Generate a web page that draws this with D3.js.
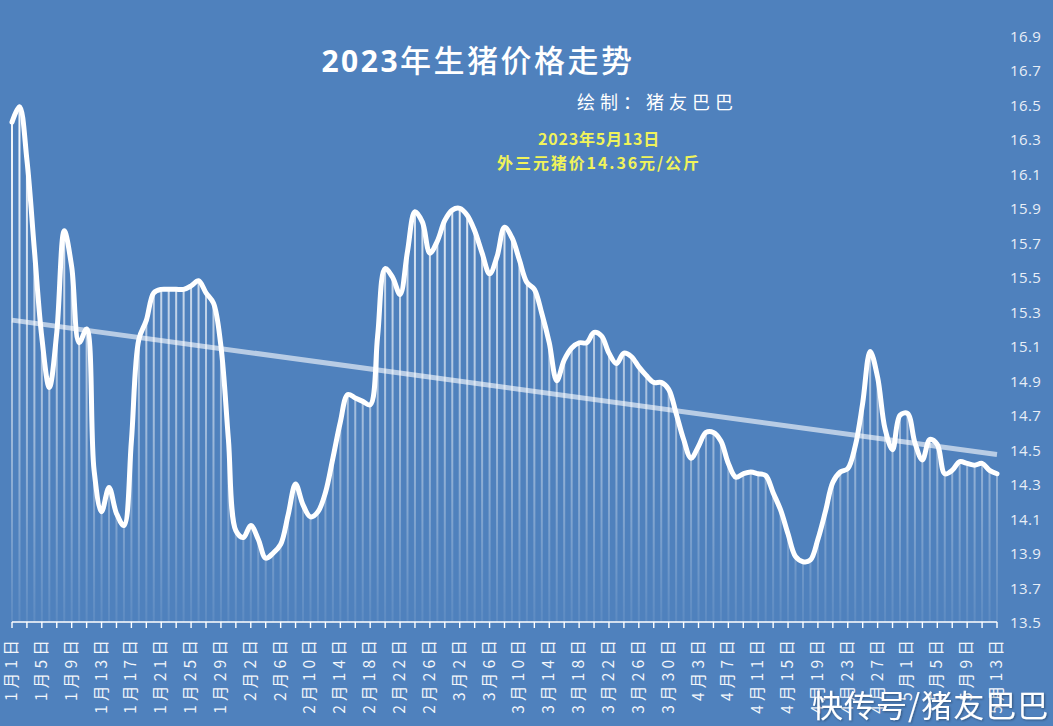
<!DOCTYPE html>
<html><head><meta charset="utf-8">
<script src="https://cdn.jsdelivr.net/npm/d3@7"></script>
<style>html,body{margin:0;padding:0;background:#4f81bd;} svg{display:block}</style>
</head><body><svg id="c" width="1053" height="726"></svg>
<script>
// ---- data ----
const monthLengths = [31, 28, 31, 30, 13]; // Jan 1 .. May 13, 2023
const categories = [];
monthLengths.forEach((n, m) => { for (let d = 1; d <= n; d++) categories.push(`${m + 1}月${d}日`); });

const prices = [
  16.40, 16.49, 16.18, 15.66, 15.15, 14.86, 15.18, 15.77, 15.56, 15.12,
  15.20, 14.38, 14.14, 14.28, 14.13, 14.06, 14.55, 15.14, 15.25, 15.41,
  15.43, 15.43, 15.43, 15.43, 15.45, 15.48, 15.41, 15.35, 15.10, 14.56,
  14.03, 13.99, 14.06, 13.98, 13.87, 13.90, 13.95, 14.12, 14.30, 14.18,
  14.11, 14.14, 14.25, 14.45, 14.66, 14.82, 14.80, 14.78, 14.76, 15.16,
  15.55, 15.50, 15.40, 15.65, 15.88, 15.82, 15.64, 15.71, 15.83, 15.89,
  15.90, 15.86, 15.77, 15.64, 15.52, 15.62, 15.79, 15.73, 15.60, 15.47,
  15.43, 15.29, 15.12, 14.90, 15.02, 15.09, 15.12, 15.12, 15.18, 15.16,
  15.06, 15.00, 15.06, 15.04, 14.98, 14.93, 14.89, 14.89, 14.85, 14.71,
  14.56, 14.45, 14.52, 14.60, 14.60, 14.55, 14.42, 14.34, 14.36, 14.37,
  14.36, 14.35, 14.25, 14.15, 14.01, 13.88, 13.85, 13.86, 13.98, 14.14,
  14.31, 14.37, 14.39, 14.52, 14.77, 15.07, 14.92, 14.62, 14.50, 14.70,
  14.71, 14.54, 14.44, 14.56, 14.53, 14.36, 14.38, 14.43, 14.42, 14.41,
  14.42, 14.38, 14.36
];

const yTicks = [13.5, 13.7, 13.9, 14.1, 14.3, 14.5, 14.7, 14.9, 15.1, 15.3, 15.5, 15.7, 15.9, 16.1, 16.3, 16.5, 16.7, 16.9];
const titleNum = "2023";
const titleText = "年生猪价格走势";
const authorText = "绘制：猪友巴巴";
const noteLines = ["2023年5月13日", "外三元猪价14.36元/公斤"];
const watermark = "快传号/猪友巴巴";

// ---- chart ----
const svg = d3.select("#c");
const W = 1053, H = 726;
const plot = { left: 12, right: 997, top: 36, bottom: 622 };
const idx = d3.range(categories.length);

const x = d3.scalePoint().domain(idx).range([plot.left, plot.right]);
const y = d3.scaleLinear().domain([d3.min(yTicks), d3.max(yTicks)]).range([plot.bottom, plot.top]);

svg.append("rect").attr("width", W).attr("height", H).attr("fill", "#4f81bd");

const defs = svg.append("defs");
const g1 = defs.append("linearGradient").attr("id", "barGrad")
  .attr("gradientUnits", "userSpaceOnUse").attr("x1", 0).attr("x2", 0)
  .attr("y1", 150).attr("y2", plot.bottom);
g1.append("stop").attr("offset", 0).attr("stop-color", "#fff").attr("stop-opacity", 0.92);
g1.append("stop").attr("offset", 0.6).attr("stop-color", "#fff").attr("stop-opacity", 0.45);
g1.append("stop").attr("offset", 1).attr("stop-color", "#fff").attr("stop-opacity", 0.08);

const f = defs.append("filter").attr("id", "shadow").attr("x", "-10%").attr("y", "-10%").attr("width", "120%").attr("height", "130%");
f.append("feDropShadow").attr("dx", 1).attr("dy", 1).attr("stdDeviation", 0.8).attr("flood-color", "#000").attr("flood-opacity", 0.35);

// bars
svg.append("g").selectAll("rect").data(prices).join("rect")
  .attr("x", (d, i) => x(i) - 1)
  .attr("width", 2)
  .attr("y", d => y(d))
  .attr("height", d => plot.bottom - y(d))
  .attr("fill", "url(#barGrad)");

// trend line (least squares)
const n = prices.length;
const mx = d3.mean(idx), my = d3.mean(prices);
const slope = d3.sum(idx, i => (i - mx) * (prices[i] - my)) / d3.sum(idx, i => (i - mx) * (i - mx));
const icpt = my - slope * mx;
svg.append("line")
  .attr("x1", x(0)).attr("y1", y(icpt))
  .attr("x2", x(n - 1)).attr("y2", y(icpt + slope * (n - 1)))
  .attr("stroke", "#fff").attr("stroke-opacity", 0.6).attr("stroke-width", 5);

// price line
const line = d3.line().x((d, i) => x(i)).y(d => y(d)).curve(d3.curveCatmullRom.alpha(0.5));
svg.append("path").datum(prices).attr("d", line)
  .attr("fill", "none").attr("stroke", "#fff").attr("stroke-width", 5)
  .attr("stroke-linejoin", "round").attr("stroke-linecap", "round");

// x axis
const ax = svg.append("g");
ax.append("line").attr("x1", plot.left).attr("x2", plot.right).attr("y1", plot.bottom).attr("y2", plot.bottom)
  .attr("stroke", "#fff").attr("stroke-width", 1.6);
ax.selectAll("line.t").data(idx.filter(i => i % 2 === 0)).join("line").attr("class", "t")
  .attr("x1", i => x(i)).attr("x2", i => x(i)).attr("y1", plot.bottom).attr("y2", plot.bottom + 6)
  .attr("stroke", "#fff").attr("stroke-width", 1.4);
ax.selectAll("text").data(idx.filter(i => i % 4 === 0)).join("text")
  .attr("transform", i => `translate(${x(i) - 2},${plot.bottom + 14}) rotate(-90)`)
  .attr("text-anchor", "end").attr("dominant-baseline", "central")
  .attr("fill", "#f2f6fb").attr("font-size", 15.5).attr("letter-spacing", 4.2)
  .attr("font-family", "'Noto Sans CJK SC', sans-serif")
  .text(i => categories[i]);

// y axis (right)
svg.append("g").selectAll("text").data(yTicks).join("text")
  .attr("x", 1010).attr("y", d => y(d)).attr("dominant-baseline", "central")
  .attr("fill", "#e8eef7").attr("font-size", 15).attr("letter-spacing", 0.4)
  .attr("font-family", "'Open Sans', sans-serif")
  .text(d => d.toFixed(1));

// titles
const t = svg.append("text").attr("x", 478).attr("y", 72).attr("text-anchor", "middle").attr("fill", "#fff")
  .attr("font-family", "'Noto Sans CJK SC', sans-serif").attr("letter-spacing", 2.5);
t.append("tspan").attr("font-size", 30).attr("font-weight", "bold").attr("font-family", "'Open Sans', sans-serif").text(titleNum);
t.append("tspan").attr("font-size", 31).attr("font-weight", 500).text(titleText);

svg.append("text").attr("x", 577).attr("y", 109).attr("fill", "#fff")
  .attr("font-family", "'Noto Sans CJK SC', sans-serif").attr("font-size", 18).attr("letter-spacing", 5)
  .text(authorText);

svg.append("g").selectAll("text").data(noteLines).join("text")
  .attr("x", 599).attr("y", (d, i) => 145 + i * 23.5).attr("text-anchor", "middle")
  .attr("fill", "#f0f35a").attr("font-size", 16).attr("font-weight", "bold")
  .attr("letter-spacing", (d, i) => i === 0 ? 0.8 : 1.9)
  .attr("font-family", "'Noto Sans CJK SC', sans-serif")
  .text(d => d);

svg.append("text").attr("x", 812).attr("y", 717).attr("fill", "#fff")
  .attr("font-family", "'Noto Sans CJK SC', sans-serif").attr("font-size", 31).attr("letter-spacing", 1)
  .attr("filter", "url(#shadow)")
  .text(watermark);
</script></body></html>
